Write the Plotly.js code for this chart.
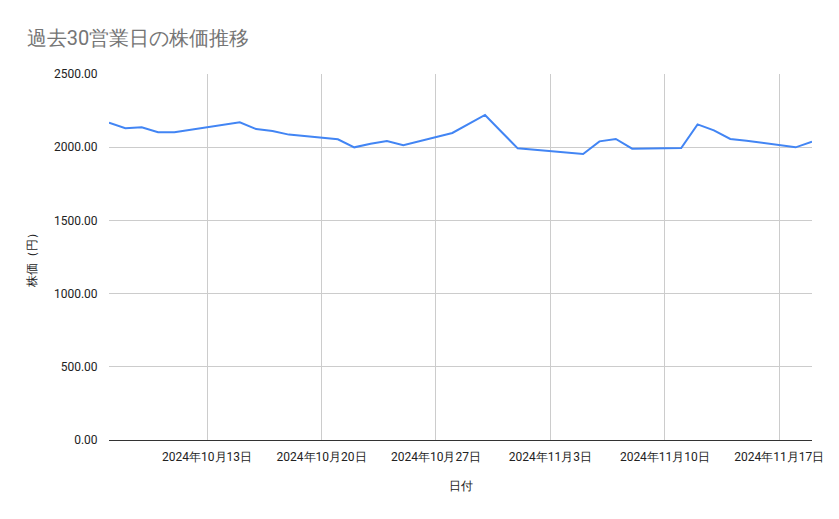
<!DOCTYPE html>
<html>
<head>
<meta charset="utf-8">
<script src="https://cdn.plot.ly/plotly-3.0.1.min.js"></script>
<style>
  body { margin: 0; background: #fff; }
  #chart { width: 839px; height: 519px; }
</style>
</head>
<body>
<div id="chart"></div>
<script>
// 過去30営業日 (祝日 10/14, 11/4 を除く)
const dates = [
  "2024-10-07", "2024-10-08", "2024-10-09", "2024-10-10", "2024-10-11",
  "2024-10-15", "2024-10-16", "2024-10-17", "2024-10-18",
  "2024-10-21", "2024-10-22", "2024-10-23", "2024-10-24", "2024-10-25",
  "2024-10-28", "2024-10-29", "2024-10-30", "2024-10-31", "2024-11-01",
  "2024-11-05", "2024-11-06", "2024-11-07", "2024-11-08",
  "2024-11-11", "2024-11-12", "2024-11-13", "2024-11-14", "2024-11-15",
  "2024-11-18", "2024-11-19",
];
const prices = [
  2167, 2129, 2136, 2102, 2102,
  2170, 2124, 2111, 2086,
  2054, 1999, 2024, 2042, 2013,
  2097, 2158, 2220, 2106, 1992,
  1953, 2040, 2056, 1990,
  1994, 2156, 2115, 2056, 2044,
  1999, 2037,
];

const font = "Roboto, Arial, sans-serif";

const trace = [
  {
    x: dates,
    y: prices,
    type: "scatter",
    mode: "lines",
    line: { color: "#4285F4", width: 2 },
    hoverinfo: "x+y",
  },
];

const layout = {
  width: 839,
  height: 519,
  margin: { t: 74, b: 79, l: 109, r: 27 },
  paper_bgcolor: "#fff",
  plot_bgcolor: "#fff",
  showlegend: false,
  font: { family: font, size: 12, color: "#222" },
  title: {
    text: "過去30営業日の株価推移",
    x: 0.032,
    xanchor: "left",
    y: 0.927,
    yanchor: "middle",
    font: { family: font, size: 20, color: "#757575" },
  },
  xaxis: {
    type: "date",
    range: ["2024-10-07", "2024-11-19"],
    tick0: "2024-10-13",
    dtick: 7 * 24 * 3600 * 1000,
    tickformat: "%Y年%-m月%-d日",
    showgrid: true,
    gridcolor: "#cccccc",
    gridwidth: 1,
    zeroline: false,
    showline: false,
    ticks: "outside",
    ticklen: 6,
    tickcolor: "rgba(0,0,0,0)",
    tickfont: { family: font, size: 12, color: "#222" },
    title: { text: "日付", standoff: 18, font: { family: font, size: 12, color: "#222" } },
  },
  yaxis: {
    range: [0, 2500],
    dtick: 500,
    tickformat: ".2f",
    showgrid: true,
    gridcolor: "#cccccc",
    zeroline: true,
    zerolinecolor: "#333333",
    zerolinewidth: 1,
    ticks: "outside",
    ticklen: 8,
    tickcolor: "rgba(0,0,0,0)",
    tickfont: { family: font, size: 12, color: "#222" },
    title: { text: "株価（円）", standoff: 14, font: { family: font, size: 12, color: "#222" } },
  },
};

Plotly.newPlot("chart", trace, layout, { displayModeBar: false, staticPlot: true });
</script>
</body>
</html>
